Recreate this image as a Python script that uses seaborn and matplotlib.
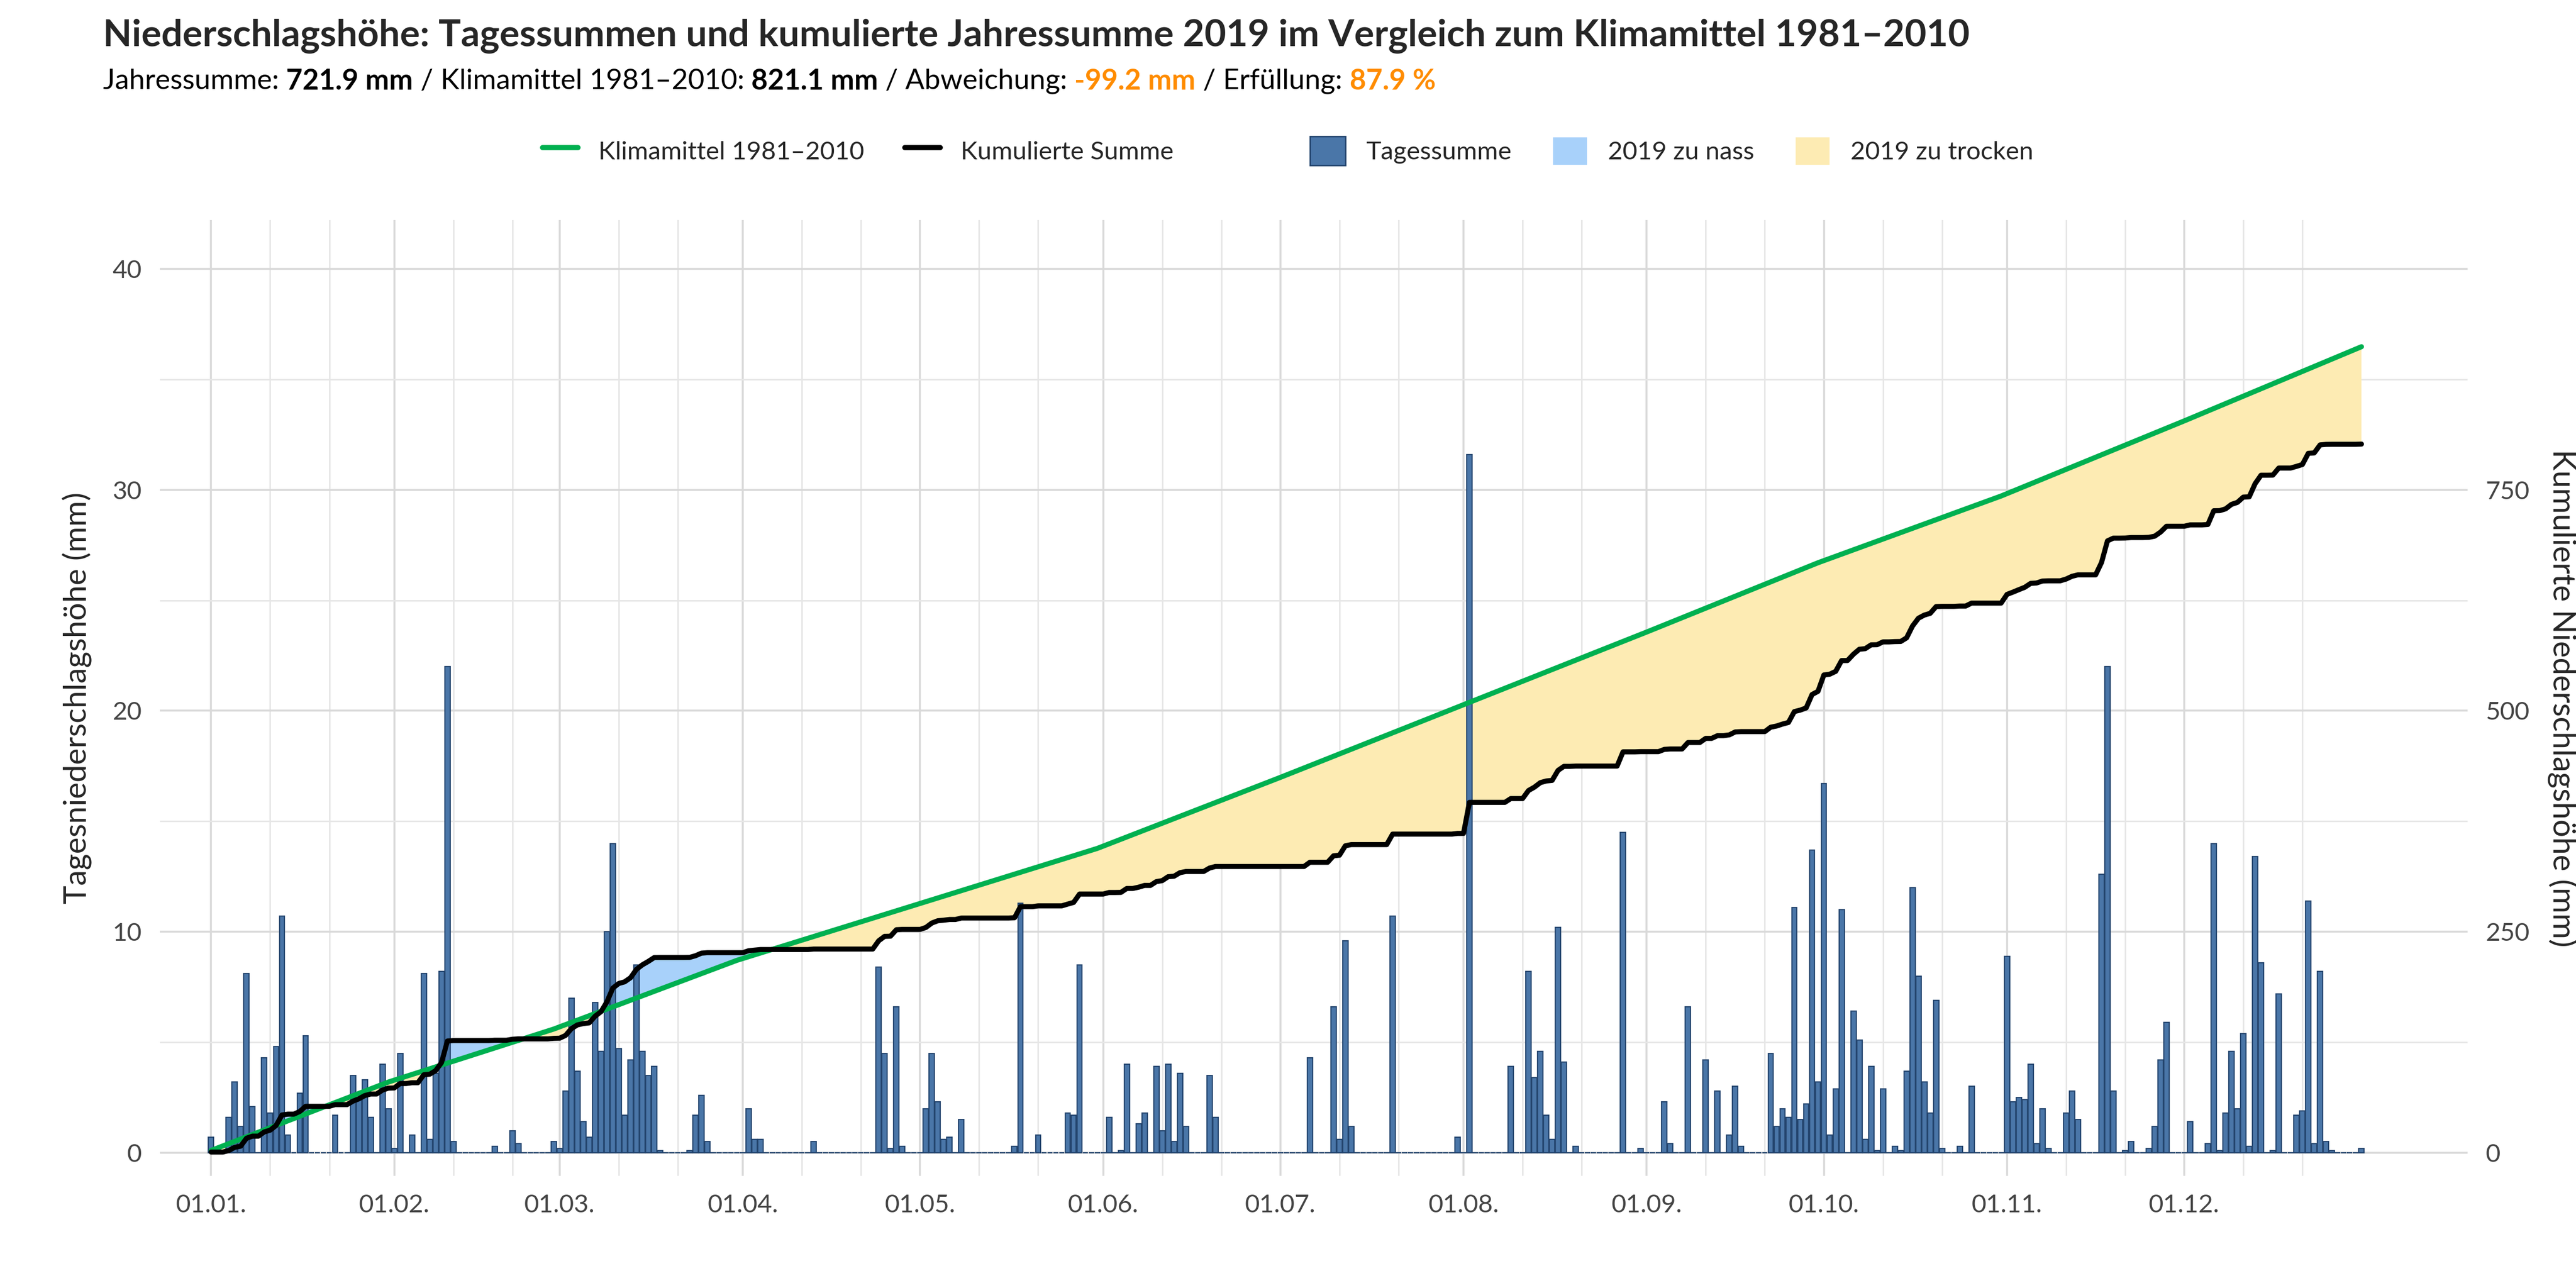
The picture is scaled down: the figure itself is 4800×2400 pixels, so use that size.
import numpy as np
import pandas as pd
import matplotlib
matplotlib.use("Agg")
import matplotlib.pyplot as plt
import seaborn as sns
from matplotlib.lines import Line2D
from matplotlib.patches import Patch

# day of year (0 = 01.01.) and daily precipitation in mm, dry days omitted
rain_days = [0, 3, 4, 5, 6, 7, 9, 10, 11, 12, 13, 15, 16, 21, 24, 25, 26, 27, 29, 30,
             31, 32, 34, 36, 37, 38, 39, 40, 41, 48, 51, 52, 58,
             59, 60, 61, 62, 63, 64, 65, 66, 67, 68, 69, 70, 71, 72, 73, 74, 75, 76, 81, 82, 83, 84,
             91, 92, 93, 102, 113, 114, 115, 116, 117,
             121, 122, 123, 124, 125, 127, 136, 137, 140, 145, 146, 147,
             152, 154, 155, 157, 158, 160, 161, 162, 163, 164, 165, 169, 170,
             186, 190, 191, 192, 193, 200, 211,
             213, 220, 223, 224, 225, 226, 227, 228, 229, 231, 239, 242,
             246, 247, 250, 253, 255, 257, 258, 259, 264, 265, 266, 267, 268, 269, 270, 271, 272,
             273, 274, 275, 276, 278, 279, 280, 281, 282, 283, 285, 286, 287, 288, 289, 290, 291,
             292, 293, 296, 298,
             304, 305, 306, 307, 308, 309, 310, 311, 314, 315, 316, 320, 321, 322, 324, 325, 328,
             329, 330, 331,
             335, 338, 339, 340, 341, 342, 343, 344, 345, 346, 347, 349, 350, 353, 354, 355, 356,
             357, 358, 359, 364]
rain_mm = [0.7, 1.6, 3.2, 1.2, 8.1, 2.1, 4.3, 1.8, 4.8, 10.7, 0.8, 2.7, 5.3, 1.7, 3.5, 2.4, 3.3, 1.6, 4.0, 2.0,
           0.2, 4.5, 0.8, 8.1, 0.6, 3.6, 8.2, 22.0, 0.5, 0.3, 1.0, 0.4, 0.5,
           0.2, 2.8, 7.0, 3.7, 1.4, 0.7, 6.8, 4.6, 10.0, 14.0, 4.7, 1.7, 4.2, 8.5, 4.6, 3.5, 3.9, 0.1, 0.1, 1.7, 2.6, 0.5,
           2.0, 0.6, 0.6, 0.5, 8.4, 4.5, 0.2, 6.6, 0.3,
           2.0, 4.5, 2.3, 0.6, 0.7, 1.5, 0.3, 11.3, 0.8, 1.8, 1.7, 8.5,
           1.6, 0.1, 4.0, 1.3, 1.8, 3.9, 1.0, 4.0, 0.5, 3.6, 1.2, 3.5, 1.6,
           4.3, 6.6, 0.6, 9.6, 1.2, 10.7, 0.7,
           31.6, 3.9, 8.2, 3.4, 4.6, 1.7, 0.6, 10.2, 4.1, 0.3, 14.5, 0.2,
           2.3, 0.4, 6.6, 4.2, 2.8, 0.8, 3.0, 0.3, 4.5, 1.2, 2.0, 1.6, 11.1, 1.5, 2.2, 13.7, 3.2,
           16.7, 0.8, 2.9, 11.0, 6.4, 5.1, 0.6, 3.9, 0.1, 2.9, 0.3, 0.1, 3.7, 12.0, 8.0, 3.2, 1.8,
           6.9, 0.2, 0.3, 3.0,
           8.9, 2.3, 2.5, 2.4, 4.0, 0.4, 2.0, 0.2, 1.8, 2.8, 1.5, 12.6, 22.0, 2.8, 0.1, 0.5, 0.2,
           1.2, 4.2, 5.9,
           1.4, 0.4, 14.0, 0.1, 1.8, 4.6, 2.0, 5.4, 0.3, 13.4, 8.6, 0.1, 7.2, 1.7, 1.9, 11.4, 0.4,
           8.2, 0.5, 0.1, 0.2]

# climate normal 1981-2010, monthly sums (mm)
month_days = [31, 28, 31, 30, 31, 30, 31, 31, 30, 31, 30, 31]
clim_month = [72, 54, 70, 56, 58, 70, 74, 74, 73, 68, 74, 78.1]
month_labels = ["01.01.", "01.02.", "01.03.", "01.04.", "01.05.", "01.06.",
                "01.07.", "01.08.", "01.09.", "01.10.", "01.11.", "01.12."]

daily = np.zeros(365)
daily[rain_days] = rain_mm
clim_daily = np.repeat(np.array(clim_month) / np.array(month_days), month_days)
df = pd.DataFrame({"day": np.arange(365), "rain": daily,
                   "cum": np.cumsum(daily), "clim": np.cumsum(clim_daily)})

# cumulative curves drawn on the daily axis (as in the original chart)
scale = 22.51
df["cum_s"] = df["cum"] / scale
df["clim_s"] = df["clim"] / scale

sns.set_style("whitegrid")
plt.rcParams["font.family"] = ["Lato", "DejaVu Sans"]

fig = plt.figure(figsize=(24, 12), dpi=200)
ax = fig.add_axes([0.062, 0.087, 0.896, 0.742])

bar_col = "#4a76a8"
green = "#00b050"
wet = "#a8d1fa"
dry = "#fdebb3"

ax.fill_between(df["day"], df["cum_s"], df["clim_s"], where=df["cum_s"] >= df["clim_s"],
                interpolate=True, color=wet, lw=0, zorder=1)
ax.fill_between(df["day"], df["cum_s"], df["clim_s"], where=df["cum_s"] < df["clim_s"],
                interpolate=True, color=dry, lw=0, zorder=1)
ax.bar(df["day"], df["rain"], width=0.9, color=bar_col, edgecolor="#24456e",
       linewidth=0.8, zorder=2)
sns.lineplot(data=df, x="day", y="clim_s", color=green, lw=3.4, ax=ax, zorder=3)
sns.lineplot(data=df, x="day", y="cum_s", color="black", lw=3.4, ax=ax, zorder=4)

month_starts = np.cumsum([0] + month_days[:-1])
minor = [m + o for m in month_starts for o in (10, 20)]
ax.set_xlim(-8.7, 382)
ax.set_ylim(-1.05, 42.2)
ax.set_xticks(month_starts)
ax.set_xticklabels(month_labels)
ax.set_xticks(minor, minor=True)
ax.set_yticks([0, 10, 20, 30, 40])
ax.set_yticks([5, 15, 25, 35], minor=True)
ax.grid(which="major", color="#d9d9d9", lw=1.3)
ax.grid(which="minor", color="#e6e6e6", lw=1.0)
ax.tick_params(which="both", length=0, labelsize=17, colors="#444444", pad=12)
ax.set_xlabel("")
ax.set_ylabel("Tagesniederschlagshöhe (mm)", fontsize=21, labelpad=14)
for s in ax.spines.values():
    s.set_visible(False)

ax2 = ax.twinx()
ax2.set_ylim(-1.05 * 25, 42.2 * 25)
ax2.set_yticks([0, 250, 500, 750])
ax2.grid(False)
ax2.tick_params(length=0, labelsize=17, colors="#444444", pad=12)
ax2.set_ylabel("Kumulierte Niederschlagshöhe (mm)", fontsize=21, rotation=270, labelpad=32)
for s in ax2.spines.values():
    s.set_visible(False)

fig.text(0.040, 0.972, "Niederschlagshöhe: Tagessummen und kumulierte Jahressumme 2019 im Vergleich zum Klimamittel 1981–2010",
         fontsize=25, fontweight="bold", va="center")

# subtitle pieces placed one after another
parts = [("Jahressumme: ", "normal", "black"), ("721.9 mm", "bold", "black"),
         (" / Klimamittel 1981–2010: ", "normal", "black"), ("821.1 mm", "bold", "black"),
         (" / Abweichung: ", "normal", "black"), ("-99.2 mm", "bold", "#ff8c00"),
         (" / Erfüllung: ", "normal", "black"), ("87.9 %", "bold", "#ff8c00")]
r = fig.canvas.get_renderer()
x = 0.040
for txt, w, c in parts:
    t = fig.text(x, 0.937, txt, fontsize=19, fontweight=w, color=c, va="center")
    x += t.get_window_extent(renderer=r).width / fig.bbox.width

handles = [Line2D([], [], color=green, lw=3.5), Line2D([], [], color="black", lw=3.5),
           Patch(facecolor="none", edgecolor="none"),
           Patch(facecolor=bar_col, edgecolor="#24456e"), Patch(facecolor=wet), Patch(facecolor=dry)]
labels = ["Klimamittel 1981–2010", "Kumulierte Summe", "", "Tagessumme", "2019 zu nass", "2019 zu trocken"]
fig.legend(handles, labels, loc="center", bbox_to_anchor=(0.5, 0.883), ncol=6, frameon=False,
           fontsize=17, handlelength=1.4, handleheight=1.4, columnspacing=1.6)

fig.savefig("out.png", dpi=200)
